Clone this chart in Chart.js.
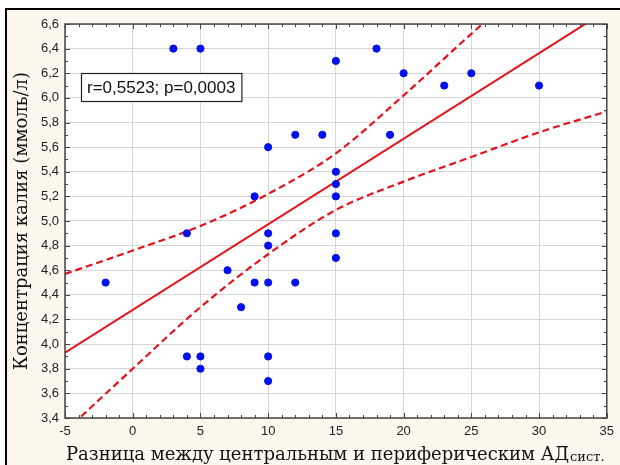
<!DOCTYPE html>
<html>
<head>
<meta charset="utf-8">
<script src="https://cdn.jsdelivr.net/npm/chart.js@4.4.1/dist/chart.umd.min.js"></script>
<style>
  html, body { margin: 0; padding: 0; background: #fff; }
  #wrap { width: 620px; height: 465px; }
</style>
</head>
<body>
<div id="wrap"><canvas id="chartOne" width="620" height="465"></canvas></div>
<script>
// points
const diffX = [3, 5, 18, 15, 20, 25, 23, 30, 10, 12, 14, 19, 9, 15, 15, 15,
               4, 10, 10, 15, 15, 7, -2, 9, 10, 12, 8, 4, 5, 5, 10, 10];
const potassium = [6.4, 6.4, 6.4, 6.3, 6.2, 6.2, 6.1, 6.1, 5.6, 5.7, 5.7, 5.7, 5.2, 5.4, 5.3, 5.2,
                   4.9, 4.9, 4.8, 4.9, 4.7, 4.6, 4.5, 4.5, 4.5, 4.5, 4.3, 3.9, 3.9, 3.8, 3.9, 3.7];

// fit line and 95% band
const fitX = [-5, 35];
const fitY = [3.93, 6.71];
const bandX = [-5, 0, 5, 10, 15, 20, 25, 30, 35];
const bandUpper = [4.57, 4.76, 4.96, 5.22, 5.55, 6.02, 6.52, 7.0, 7.53];
const bandLower = [3.29, 3.80, 4.30, 4.73, 5.09, 5.32, 5.52, 5.72, 5.89];

const statText = 'r=0,5523; p=0,0003';
const yTitle = 'Концентрация калия (ммоль/л)';
const xTitle = 'Разница между центральным и периферическим АД';
const xTitleSub = 'сист.';

const pts = (xs, ys) => xs.map((x, i) => ({x: x, y: ys[i]}));

const RED = '#e4121a';

const frame = {
  id: 'frame',
  beforeDraw(chart) {
    const c = chart.ctx;
    c.save();
    c.fillStyle = '#ffffff';
    c.fillRect(0, 0, chart.width, chart.height);
    c.fillStyle = '#fcf8ee';
    c.fillRect(7, 10, chart.width - 7, chart.height - 10);
    const a = chart.chartArea;
    c.fillStyle = '#ffffff';
    c.fillRect(a.left, a.top, a.right - a.left, a.bottom - a.top);
    c.strokeStyle = '#000';
    c.lineWidth = 2;
    c.beginPath();
    c.moveTo(6, chart.height);
    c.lineTo(6, 9);
    c.lineTo(chart.width, 9);
    c.stroke();
    c.restore();
  },
  afterDraw(chart) {
    const c = chart.ctx;
    const a = chart.chartArea;
    const xs = chart.scales.x, ys = chart.scales.y;
    c.save();
    // plot border
    c.strokeStyle = '#444';
    c.lineWidth = 1.5;
    c.strokeRect(a.left, a.top, a.right - a.left, a.bottom - a.top);
    // inward ticks
    c.lineWidth = 1;
    c.beginPath();
    for (let v = -5; v <= 35; v += 1) {
      const px = Math.round(xs.getPixelForValue(v)) + 0.5;
      const len = v % 5 === 0 ? 5 : 3;
      c.moveTo(px, a.bottom); c.lineTo(px, a.bottom - len);
      c.moveTo(px, a.top); c.lineTo(px, a.top + len);
    }
    for (let k = 34; k <= 66; k += 1) {
      const py = Math.round(ys.getPixelForValue(k / 10)) + 0.5;
      const len = k % 2 === 0 ? 5 : 3;
      c.moveTo(a.left, py); c.lineTo(a.left + len, py);
      c.moveTo(a.right, py); c.lineTo(a.right - len, py);
    }
    c.stroke();

    // stat box
    c.font = '17px "Liberation Sans", Arial, sans-serif';
    const tw = c.measureText(statText).width;
    const bx = 81, by = 73, bw = tw + 12, bh = 28;
    c.fillStyle = '#fff';
    c.fillRect(bx, by, bw, bh);
    c.strokeStyle = '#222';
    c.lineWidth = 1.2;
    c.strokeRect(bx + 0.5, by + 0.5, bw, bh);
    c.fillStyle = '#111';
    c.textBaseline = 'middle';
    c.fillText(statText, bx + 6, by + bh / 2 + 1);

    // axis titles
    c.fillStyle = '#111';
    c.font = '18px "DejaVu Serif", serif';
    c.textAlign = 'center';
    c.textBaseline = 'middle';
    c.save();
    c.translate(22, 221);
    c.rotate(-Math.PI / 2);
    c.fillText(yTitle, 0, 0);
    c.restore();

    c.textAlign = 'left';
    c.textBaseline = 'alphabetic';
    c.font = '18px "DejaVu Serif", serif';
    const w1 = c.measureText(xTitle).width;
    c.font = '13px "DejaVu Serif", serif';
    const w2 = c.measureText(xTitleSub).width;
    const x0 = 66;
    c.font = '18px "DejaVu Serif", serif';
    c.fillText(xTitle, x0, 460);
    c.font = '13px "DejaVu Serif", serif';
    c.fillText(xTitleSub, x0 + w1 + 1, 461);
    c.restore();
  }
};

const canvas = document.getElementById('chartOne');
const ctx = canvas.getContext('2d');

let chart_one = new Chart(ctx, {
  type: 'scatter',
  data: {
    datasets: [
      {
        data: pts(diffX, potassium),
        backgroundColor: '#0010ee',
        borderColor: '#0010ee',
        pointRadius: 3.6,
        order: 0
      },
      {
        data: pts(fitX, fitY),
        showLine: true,
        borderColor: RED,
        borderWidth: 2,
        pointRadius: 0,
        order: 1
      },
      {
        data: pts(bandX, bandUpper),
        showLine: true,
        borderColor: RED,
        borderWidth: 2.2,
        borderDash: [7, 4],
        cubicInterpolationMode: 'monotone',
        pointRadius: 0,
        order: 2
      },
      {
        data: pts(bandX, bandLower),
        showLine: true,
        borderColor: RED,
        borderWidth: 2.2,
        borderDash: [7, 4],
        cubicInterpolationMode: 'monotone',
        pointRadius: 0,
        order: 2
      }
    ]
  },
  options: {
    responsive: false,
    animation: false,
    layout: { padding: { left: 0, top: 24, right: 10, bottom: 0 } },
    plugins: { legend: { display: false }, tooltip: { enabled: false } },
    scales: {
      x: {
        type: 'linear',
        min: -5,
        max: 35,
        afterFit: (s) => { s.height = 47; },
        grid: { color: '#d6d6d6', drawTicks: false },
        border: { display: false },
        ticks: {
          stepSize: 5,
          padding: 6,
          color: '#222',
          font: { family: '"Liberation Sans", Arial, sans-serif', size: 13 }
        }
      },
      y: {
        min: 3.4,
        max: 6.6,
        afterFit: (s) => { s.width = 65; },
        grid: { color: '#d6d6d6', drawTicks: false },
        border: { display: false },
        ticks: {
          stepSize: 0.2,
          padding: 6,
          color: '#222',
          font: { family: '"Liberation Sans", Arial, sans-serif', size: 13 },
          callback: (v) => Number(v).toFixed(1).replace('.', ',')
        }
      }
    }
  },
  plugins: [frame]
});
</script>
</body>
</html>
